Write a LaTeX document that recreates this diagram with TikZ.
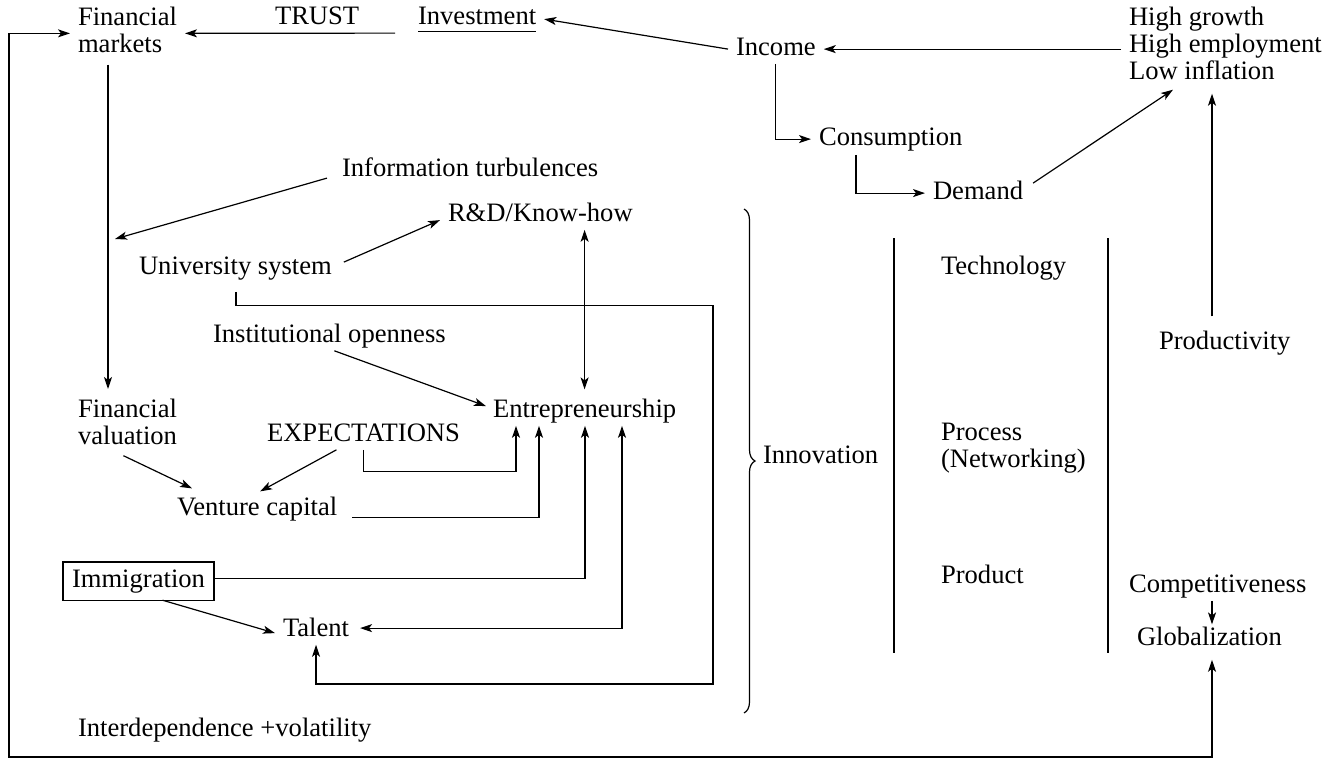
\documentclass[tikz,border=0pt]{standalone}
\usepackage{fontspec}
\setmainfont{Liberation Serif}
\usetikzlibrary{arrows.meta,calc,decorations.pathreplacing}
\tikzset{
  term/.style={
      anchor=base west,
      inner xsep=4pt,
      inner ysep=1.5pt,
      outer sep=0pt,
      text height=8.8pt,
      text depth=2.9pt,
  },
  termbox/.style={
      term,
      draw,
      inner xsep=4.5pt,
      inner ysep=3.7pt,
  },
  lines/.style={
      anchor=north west,
      align=left,
      inner xsep=4pt,
      inner ysep=1.5pt,
      outer sep=0pt,
  },
  flow/.style={-{Stealth[length=6pt,width=4pt,inset=1.5pt]}},
  flow2/.style={{Stealth[length=6pt,width=4pt,inset=1.5pt]}-{Stealth[length=6pt,width=4pt,inset=1.5pt]}}
}
\begin{document}
\begin{tikzpicture}[x=0.5pt,y=-0.5pt,line width=0.6pt,font=\fontsize{13.3}{13.5}\selectfont]
    \useasboundingbox (0,0) rectangle (1328,760);
    \node[lines] (fm) at (70,4) {Financial\\markets};
    \node[term] (trust) at (267,25) {TRUST};
    \node[term] (inv) at (410,25) {Investment};
    \node[term] (inc) at (728,55) {Income};
    \node[lines] (high) at (1121,4) {High growth\\High employment\\Low inflation};
    \node[term] (cons) at (811,145) {Consumption};
    \node[term] (dem) at (925,199) {Demand};
    \node[term] (info) at (334,176) {Information turbulences};
    \node[term] (rd) at (440,221) {R\&D/Know-how};
    \node[term] (univ) at (131,274) {University system};
    \node[term] (inst) at (205,342) {Institutional openness};
    \node[term] (tech) at (933,274) {Technology};
    \node[term] (prodv) at (1151,349) {Productivity};
    \node[term] (ent) at (485,417) {Entrepreneurship};
    \node[lines] (fv) at (70,396) {Financial\\valuation};
    \node[term] (expt) at (259,441) {EXPECTATIONS};
    \node[term] (innov) at (755,463) {Innovation};
    \node[lines] (proc) at (933,420) {Process\\(Networking)};
    \node[term] (vc) at (169,515) {Venture capital};
    \node[term] (prodt) at (933,583) {Product};
    \node[termbox] (immig) at (63,587) {Immigration};
    \node[term] (comp) at (1121,592) {Competitiveness};
    \node[term] (tal) at (275,636) {Talent};
    \node[term] (glob) at (1129,645) {Globalization};
    \node[term] (interd) at (70,736) {Interdependence +volatility};

    \coordinate (ax) at (1212,0);
    \coordinate (lb) at (9,757);
    \coordinate (turb) at (115,239);
    \coordinate (uloop) at (713,684);

    \draw ($(inv.south west)+(8,-2)$) -- ($(inv.south east)+(-8,-2)$);
    \draw[flow] ($(inv.west)+(-15,14)$) -- ($(fm.east)+(0,3.5)$);
    \draw[flow] (inc.west) -- (inv.east);
    \draw[flow] (high.west |- inc.east) -- (inc.east);
    \draw[flow] (inc.south) |- (cons.west);
    \draw[flow] ($(cons.south west)+(45,1)$) |- (dem.west);
    \draw[flow] ($(dem.east)+(2,-10)$) -- ($(high.south west)+(52,7)$);
    \draw[flow] ($(prodv.north -| ax)+(0,-12)$) -- ($(high.south -| ax)+(0,11)$);
    \draw[flow] (comp.south -| ax) -- (glob.north -| ax);
    \draw[flow2] ($(fm.west)+(0,3.5)$) -| (lb) -| ($(glob.south -| ax)+(0,6)$);

    \draw[flow] ($(fm.south west)+(38,9)$) -- ($(fv.north west)+(38,-7)$);
    \draw[flow] ($(info.west)+(-7,8)$) -- (turb);
    \draw[flow] ($(univ.east)+(4,-6)$) -- ($(rd.west)+(0,5)$);
    \draw[flow2] (rd.south -| ent.north) -- ($(ent.north)+(0,-7)$);
    \draw[flow] ($(univ.south west)+(105,9)$) -- ++(0,14) -| (uloop) -| (tal.south);
    \draw[flow] ($(inst.south)+(5,0)$) -- ($(ent.west)+(1,-5)$);
    \draw[flow] ($(fv.south)+(-4,8)$) -- ($(vc.north west)+(23,-6)$);
    \draw[flow] ($(expt.south)+(-27,0)$) -- ($(vc.north)+(3,-3)$);
    \draw[flow] (expt.south) -- ++(0,22) -| ($(ent.south west)+(31,0)$);
    \draw[flow] ($(vc.east)+(7,8)$) -| ($(ent.south west)+(54,0)$);
    \draw[flow] ($(immig.east)+(0,-3)$) -| ($(ent.south west)+(100,0)$);
    \draw[flow] ($(immig.south)+(24,0)$) -- ($(tal.west)+(0,3)$);
    \draw[flow2] ($(tal.east)+(3,-2)$) -| ($(ent.south west)+(137,0)$);

    \draw[decorate,decoration={brace,amplitude=5.5pt}] (744,209) -- (744,713);
    \foreach \x in {894,1108}
        \draw (\x,238) -- (\x,653);
    \end{tikzpicture}
\end{document}
